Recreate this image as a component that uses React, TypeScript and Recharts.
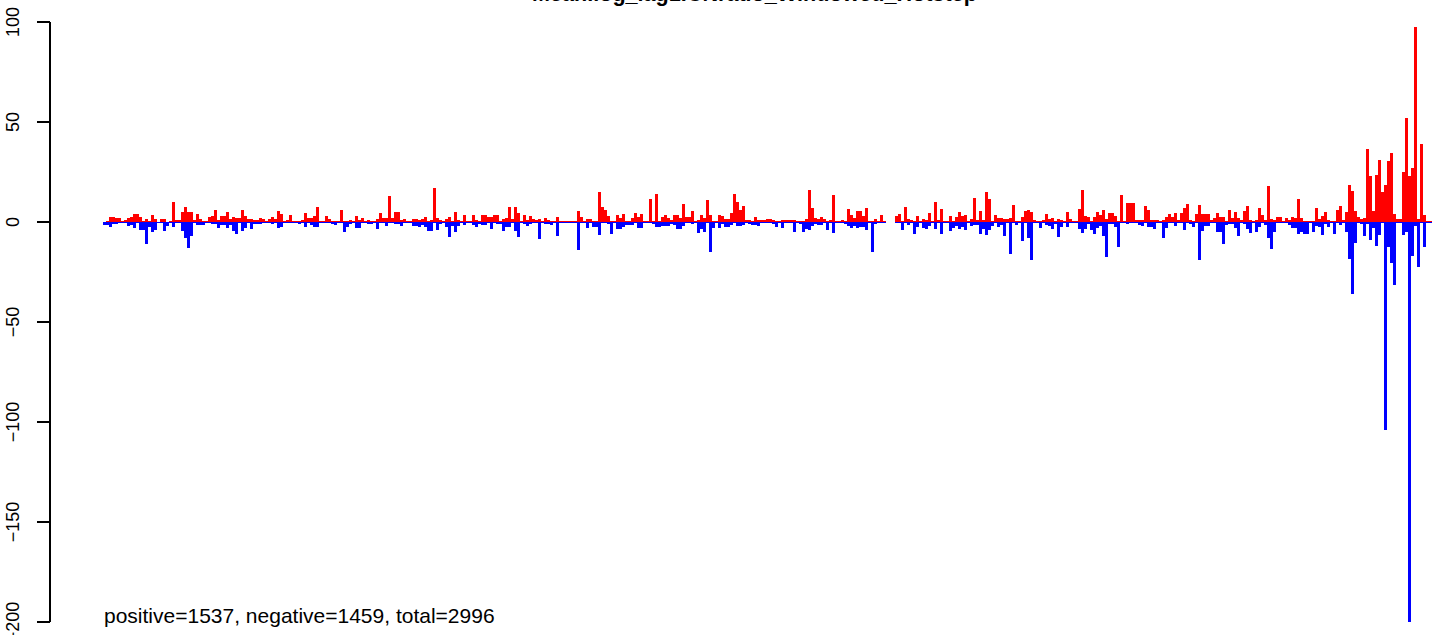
import { Bar, BarChart, XAxis, YAxis } from "recharts";

// per-bin sums, left to right
const POSITIVE = [
  0, 0.5, 2.5, 2.5, 2, 2, 0.5, 1, 2, 2.5,
  4, 4, 2.5, 0.5, 1.5, 0.5, 3.5, 1.5, 0, 1.5,
  1.5, 0, 0.5, 10, 1, 1, 5, 7.5, 5, 5,
  1, 4, 1.5, 0.5, 0.5, 2.5, 3, 6, 1, 3,
  3, 5, 1.5, 2.5, 2, 2, 6, 3, 1.5, 1.5,
  1, 1, 2, 1.5, 0.5, 1.5, 2.5, 1.5, 5.5, 4,
  0.5, 1, 3.5, 0.5, 0.5, 0.5, 1, 4.5, 2, 2,
  3, 7.5, 0.5, 0.5, 3, 1.5, 0.5, 0.5, 0.5, 6,
  0.5, 0.5, 1, 0.5,
  3, 1, 2, 0.5, 1, 0.5, 0.5, 1.5, 4.5, 2,
  2, 13, 2, 5, 5, 1, 1.5, 0.5, 0.5, 1.5,
  1.5, 1, 1.5, 2.5, 0.5, 1, 17, 2, 1, 0.5,
  1.5, 2.5, 0.5, 5, 1, 0.5, 3.5, 0.5, 0.5, 3.5,
  1, 0.5, 3.5, 3.5, 2.5, 2.5, 3.5, 3.5, 0.5, 1.5,
  2, 7.5, 1.5, 7.5, 4.5, 0.5, 3.5, 1, 3, 1.5,
  1, 1.5, 0.5, 2, 1, 0.5, 0.5, 2.5, 0.5, 0.5,
  0.5, 0.5, 0.5, 0.5, 5.5, 2.5, 0.5, 1.5, 1.5, 0.5,
  0.5, 15, 7.5, 6, 3,
  0.5, 0.5, 3.5, 2, 4, 0.5, 0.5, 2, 4.5, 2.5,
  4, 0.5, 0.5, 11.5, 0.5, 14, 0.5, 2.5, 3.5, 2,
  1, 3.5, 3.5, 2, 9, 2.5, 2.5, 5.5, 0.5, 1,
  3.5, 2, 11, 3.5, 0.5, 0.5, 3.5, 3, 1.5, 1.5,
  4.5, 14, 10, 6, 8, 1, 1, 0.5, 2.5, 1,
  1, 1, 1.5, 1.5, 1, 0.5, 0.5, 1, 1, 1,
  1, 1, 0.5, 0.5, 0.5, 1.5, 16, 7, 2, 1.5,
  2.5, 1.5, 0.5, 1, 13.5, 0.5, 0.5, 1, 0.5, 6.5,
  3.5, 2, 5.5,
  5.5, 3, 7, 0.5, 0.5, 1.5, 0.5, 3.5, 0.5, 0,
  0, 0, 3, 4, 0.5, 7.5, 1.5, 1, 0.5, 3,
  0.5, 1.5, 1, 4.5, 0.5, 10, 1, 6.5, 0.5, 0.5,
  3, 0.5, 2.5, 5, 3, 3.5, 0.5, 1.5, 12, 1,
  5.5, 1, 15, 11.5, 0.5, 3.5, 2, 2, 1.5, 1.5,
  2, 8.5, 0.5, 0.5, 2.5, 5.5, 6, 5, 1, 0.5,
  0.5, 1, 4, 1.5, 2, 0.5, 1.5, 1, 0.5, 5,
  1.5, 0.5, 0.5, 6.5, 16, 3, 2.5, 0.5, 2.5, 5,
  3.5, 6, 1.5,
  4.5, 4.5, 3, 0.5, 13.5, 0.5, 9.5, 9.5, 9.5, 1,
  1, 1, 8, 6, 1, 1, 1, 0.5, 1, 2.5,
  4, 2.5, 4.5, 1, 4.5, 7, 9, 1, 0.5, 4,
  8.5, 4, 4, 4, 1, 2, 4.5, 2.5, 2.5, 0.5,
  6, 2, 5, 2, 1, 5.5, 8, 1, 0.5, 1,
  7, 3.5, 1, 18, 1.5, 1, 2.5, 2.5, 0.5, 2,
  1, 2.5, 2, 11.5, 2, 0.5, 0.5, 0.5, 0.5, 7,
  1.5, 3, 5, 1, 0.5, 0.5, 6, 8, 1, 5,
  18.5, 15.5, 5.5, 2.5, 1.5, 2, 36.5, 23, 5.5, 23.5,
  31, 15, 18.5, 30.5, 34.5, 4, 1.5, 1.5, 25, 52,
  23, 27, 97.5, 1.5, 39, 3.5, 0.5, 0.5,
];

const NEGATIVE = [
  -1.5, -1.5, -2.3, -1, -1, -0.7, -0.7, -0.7, -2, -1.5,
  -3, -0.7, -4, -4, -11, -2.3, -5, -4, -0.7, -0.7,
  -4.5, -2, -0.7, -2.3, -0.7, -0.7, -4.5, -8, -13, -7,
  -0.7, -1.3, -1.3, -1.3, -0.7, -0.7, -1, -1, -3, -1.5,
  -1.5, -3, -1.5, -4.3, -6, -0.7, -4.3, -3, -0.7, -3.3,
  -1, -1, -1, -0.7, -0.7, -0.7, -1, -0.7, -3, -2.3,
  -0.7, -0.7, -0.7, -0.7, -0.7, -1, -0.7, -2.3, -0.7, -1.3,
  -2.3, -2.3, -0.7, -0.7, -0.7, -0.7, -1, -1.3, -0.7, -0.7,
  -5, -2.3, -1, -0.7,
  -3, -3, -0.7, -0.7, -1, -1, -0.7, -3.3, -0.7, -0.7,
  -2, -0.7, -0.7, -1, -1, -2, -0.7, -0.7, -0.7, -2,
  -2, -2.3, -1.3, -2.3, -4.3, -4.3, -0.7, -4, -1, -0.7,
  -2.3, -7.3, -2, -5, -2, -0.7, -1.3, -0.7, -0.7, -1.3,
  -2.3, -1, -1.3, -1.3, -0.7, -3.3, -0.7, -1, -1, -4.3,
  -2.3, -2.3, -0.7, -4.3, -7.3, -0.7, -1, -2, -1, -0.7,
  -0.7, -8.3, -0.7, -1, -1, -1.3, -0.7, -6.8, -0.7, -0.7,
  -0.7, -0.7, -0.7, -0.7, -13.8, -0.7, -0.7, -2.8, -0.7, -2.3,
  -2.3, -6.3, -0.7, -0.7, -1,
  -5.8, -0.7, -3.3, -3.3, -2.3, -1.3, -1.3, -1.3, -0.7, -2.8,
  -2.8, -0.7, -0.7, -0.7, -0.8, -2.3, -2.3, -2, -2, -2,
  -0.8, -1.3, -3.3, -3.3, -2, -0.7, -0.7, -1, -0.7, -5.3,
  -3.3, -4.8, -0.7, -14.8, -2.8, -0.7, -2.8, -1, -2.3, -2.3,
  -1.3, -0.7, -2, -2, -1.3, -0.7, -1, -1.3, -1.3, -2,
  -0.7, -0.7, -0.7, -0.7, -1, -2.3, -0.7, -2.8, -0.7, -0.7,
  -0.7, -4.8, -0.7, -1, -4.8, -3.3, -3.8, -2, -0.8, -1.3,
  -1.3, -0.7, -3.8, -0.7, -5.3, -0.7, -0.7, -0.7, -0.8, -2,
  -2.8, -2, -2.8,
  -2.3, -2.3, -3.8, -0.7, -14.8, -0.8, -0.7, -0.7, -0.7, 0,
  0, 0, -0.7, -0.7, -3.8, -0.7, -1.3, -0.7, -5.8, -2.3,
  -0.7, -2.8, -3.3, -1.8, -0.7, -3.3, -0.7, -5.8, -0.7, -0.7,
  -4.3, -2.8, -1.8, -3.3, -2.3, -3.8, -0.7, -1.8, -1.3, -1.3,
  -5.8, -3.3, -6.3, -3.8, -1.8, -0.7, -2.3, -1.3, -6.8, -0.7,
  -15.8, -0.7, -1.3, -0.7, -9.3, -0.7, -7.8, -18.8, -0.7, -0.7,
  -2.8, -0.7, -1.3, -1.8, -3.3, -0.8, -7.3, -2.3, -0.7, -2.3,
  -0.7, -0.7, -0.7, -3.3, -5.3, -3.3, -0.8, -3.8, -5.8, -2.8,
  -2, -6.8, -17.3,
  -0.8, -0.8, -2.3, -12.3, -0.7, -0.7, -0.8, -0.7, -0.7, -0.7,
  -1.3, -2, -0.7, -2.3, -2.3, -3.3, -0.7, -0.7, -7.8, -2.8,
  -0.7, -0.7, -1.8, -0.7, -0.7, -3.8, -0.7, -0.8, -2.3, -0.7,
  -18.8, -4.3, -1.8, -1.8, -0.7, -0.7, -4.8, -4.8, -10.8, -1.3,
  -0.8, -0.8, -2.8, -6.8, -0.7, -0.8, -3.3, -5.3, -0.7, -4.8,
  -2.3, -0.7, -1.3, -7.8, -13.3, -4.8, -0.7, -0.7, -0.7, -0.7,
  -1.3, -2.8, -2.8, -5.8, -4.8, -5.8, -5.8, -0.7, -4.8, -2,
  -2.3, -6.3, -0.8, -2.3, -0.7, -6, -0.7, -1.5, -0.7, -5,
  -18.5, -36, -10.5, -0.7, -0.8, -7, -1, -9, -3, -12,
  -6.5, -0.7, -104, -12.5, -20.5, -31.5, -0.7, -0.7, -6.5, -5,
  -200, -17, -2, -22.5, -0.7, -12.5, -0.7, -0.7,
];

const Y_TICKS = [100, 50, 0, -50, -100, -150, -200];
const TITLE = "Mean.log_lag1.CNratio_Windowed_Hotstep";
const SUMMARY = "positive=1537, negative=1459, total=2996";

const data = POSITIVE.map((pos, i) => ({ bin: i + 1, pos, neg: NEGATIVE[i] }));

const FONT = '"Liberation Sans", Arial, Helvetica, sans-serif';

// R draws the axis labels turned on their side, with a real minus sign
const RotatedTick = ({ y, payload }: any) => (
  <text
    x={19}
    y={y}
    transform={`rotate(-90, 19, ${y})`}
    textAnchor="middle"
    fontSize={18}
    fontFamily={FONT}
    fill="#000"
  >
    {String(payload.value).replace("-", "\u2212")}
  </text>
);

export default function App() {
  return (
    <div style={{ position: "absolute", left: 0, top: 0, width: 1444, height: 635, background: "#fff" }}>
      <BarChart
        width={1444}
        height={635}
        data={data}
        stackOffset="sign"
        barCategoryGap={0}
        barGap={0}
        margin={{ top: 22, right: 12, bottom: 13, left: 0 }}
        style={{ shapeRendering: "crispEdges" }}
      >
        <XAxis dataKey="bin" hide padding={{ left: 53, right: 0 }} />
        <YAxis
          width={50}
          domain={[-200, 100]}
          ticks={Y_TICKS}
          interval={0}
          tick={<RotatedTick />}
          tickSize={13}
          axisLine={{ stroke: "#000", strokeWidth: 1.5 }}
          tickLine={{ stroke: "#000", strokeWidth: 1.5 }}
          allowDataOverflow
        />
        <Bar dataKey="pos" stackId="s" fill="#ff0000" isAnimationActive={false} />
        <Bar dataKey="neg" stackId="s" fill="#0000ff" isAnimationActive={false} />
      </BarChart>
      <svg
        width={1444}
        height={635}
        style={{ position: "absolute", left: 0, top: 0, pointerEvents: "none" }}
      >
        <text x={532} y={1} fontSize={21.6} fontWeight="bold" fontFamily={FONT} fill="#000">
          {TITLE}
        </text>
        <text x={104} y={623} fontSize={21} fontFamily={FONT} fill="#000">
          {SUMMARY}
        </text>
      </svg>
    </div>
  );
}
